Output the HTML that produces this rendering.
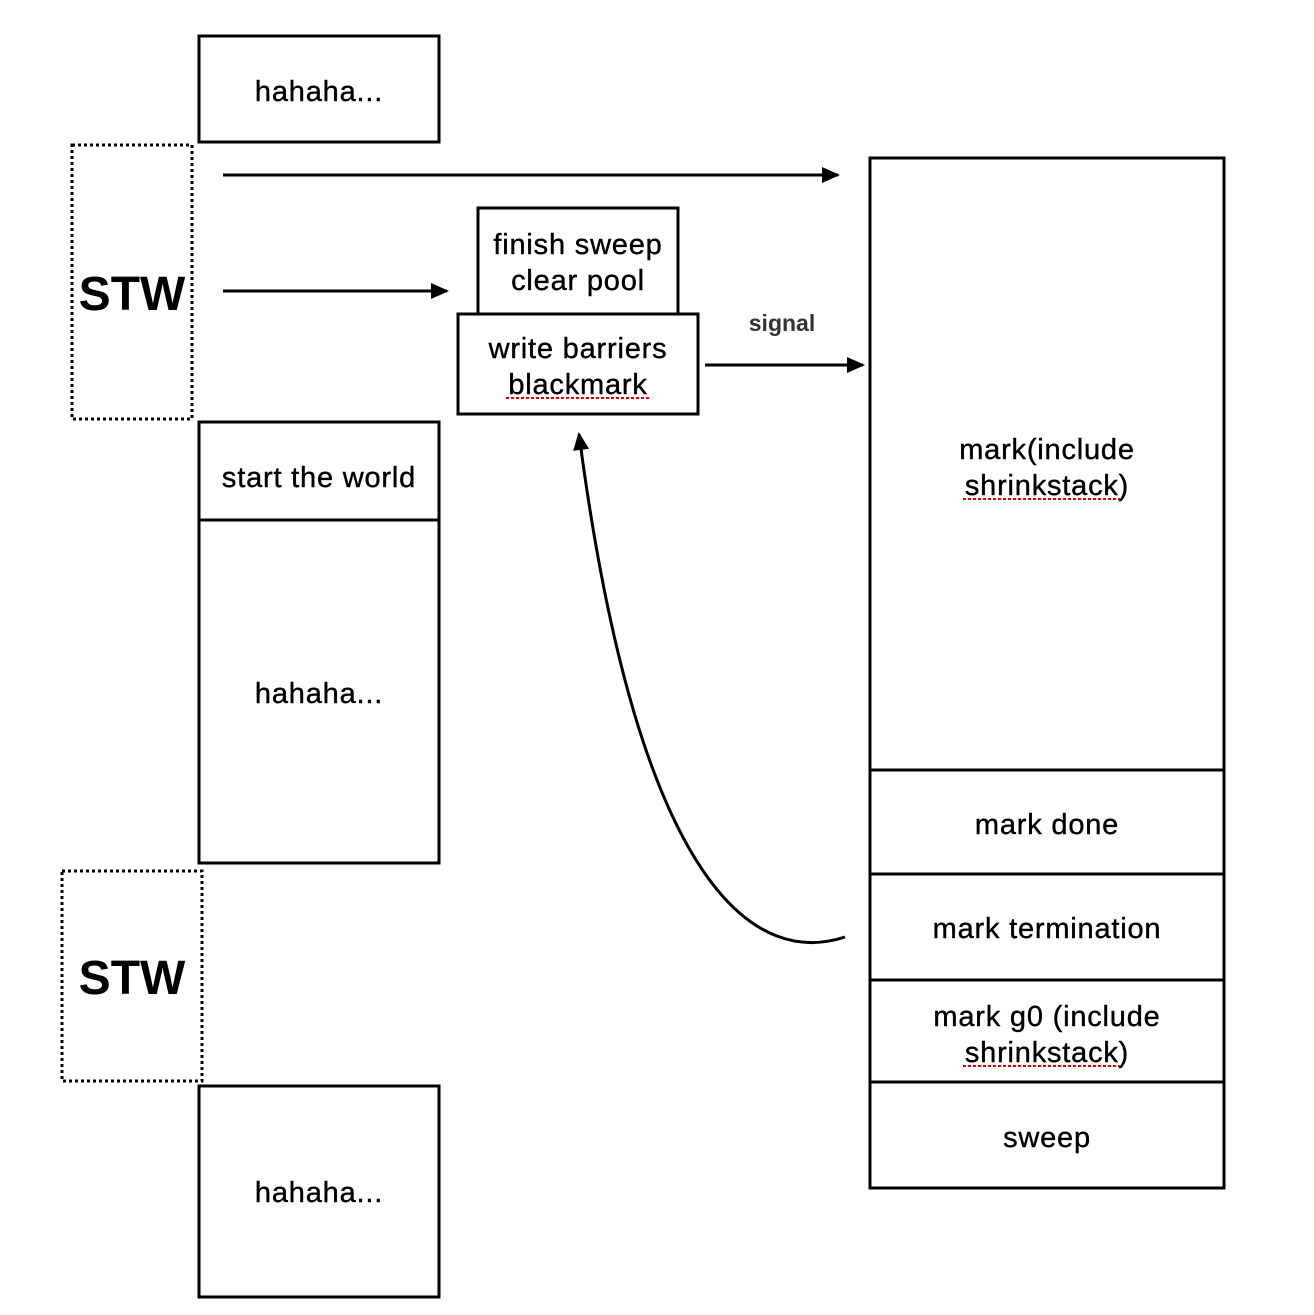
<!DOCTYPE html>
<html><head><style>html,body{margin:0;padding:0;background:#fff;}</style></head>
<body>
<svg width="1314" height="1310" viewBox="0 0 1314 1310" xmlns="http://www.w3.org/2000/svg" font-family="Liberation Sans, Arial, sans-serif">
<defs>
<marker id="ah" markerWidth="18" markerHeight="16" refX="16" refY="8" orient="auto" markerUnits="userSpaceOnUse" viewBox="0 0 18 16">
<path d="M0,0 L18,8 L0,16 z" fill="#000"/>
</marker>
</defs>
<g fill="#fff" stroke="#000" stroke-width="3">
<rect x="199" y="36" width="240" height="106"/>
<rect x="199" y="422" width="240" height="98"/>
<rect x="199" y="520" width="240" height="343"/>
<rect x="199" y="1086" width="240" height="211"/>
<rect x="478" y="208" width="200" height="107"/>
<rect x="458" y="314" width="240" height="100"/>
<rect x="870" y="158" width="354" height="1030"/>
<line x1="870" y1="770" x2="1224" y2="770"/>
<line x1="870" y1="874" x2="1224" y2="874"/>
<line x1="870" y1="980" x2="1224" y2="980"/>
<line x1="870" y1="1082" x2="1224" y2="1082"/>
</g>
<g fill="none" stroke="#000" stroke-width="3" stroke-dasharray="3 3">
<rect x="72" y="145" width="120" height="274"/>
<rect x="62" y="871" width="140" height="210"/>
</g>
<g stroke="#000" stroke-width="3" fill="none">
<line x1="223" y1="175" x2="838" y2="175" marker-end="url(#ah)"/>
<line x1="223" y1="291" x2="447" y2="291" marker-end="url(#ah)"/>
<line x1="705" y1="365" x2="863" y2="365" marker-end="url(#ah)"/>
<path d="M845,937 C760,965 640,900 579,434" marker-end="url(#ah)"/>
</g>
<g font-size="29" letter-spacing="0.8" text-anchor="middle" fill="#000" stroke="#000" stroke-width="0.4">
<text x="319" y="101">hahaha...</text>
<text x="319" y="487">start the world</text>
<text x="319" y="703">hahaha...</text>
<text x="319" y="1202">hahaha...</text>
<text x="578" y="254">finish sweep</text>
<text x="578" y="290">clear pool</text>
<text x="578" y="358">write barriers</text>
<text x="578" y="394">blackmark</text>
<text x="1047" y="459">mark(include</text>
<text x="1047" y="495">shrinkstack)</text>
<text x="1047" y="834">mark done</text>
<text x="1047" y="938">mark termination</text>
<text x="1047" y="1026">mark g0 (include</text>
<text x="1047" y="1062">shrinkstack)</text>
<text x="1047" y="1147">sweep</text>
</g>
<text x="782" y="331" font-size="23" font-weight="bold" text-anchor="middle" fill="#333">signal</text>
<g font-size="48" font-weight="bold" text-anchor="middle" fill="#000">
<text x="132" y="310">STW</text>
<text x="132" y="994">STW</text>
</g>
<g stroke="#d00" stroke-width="2" stroke-dasharray="3 2">
<line x1="506" y1="398" x2="650" y2="398"/>
<line x1="963" y1="499" x2="1120" y2="499"/>
<line x1="963" y1="1066" x2="1120" y2="1066"/>
</g>
</svg>
</body></html>
